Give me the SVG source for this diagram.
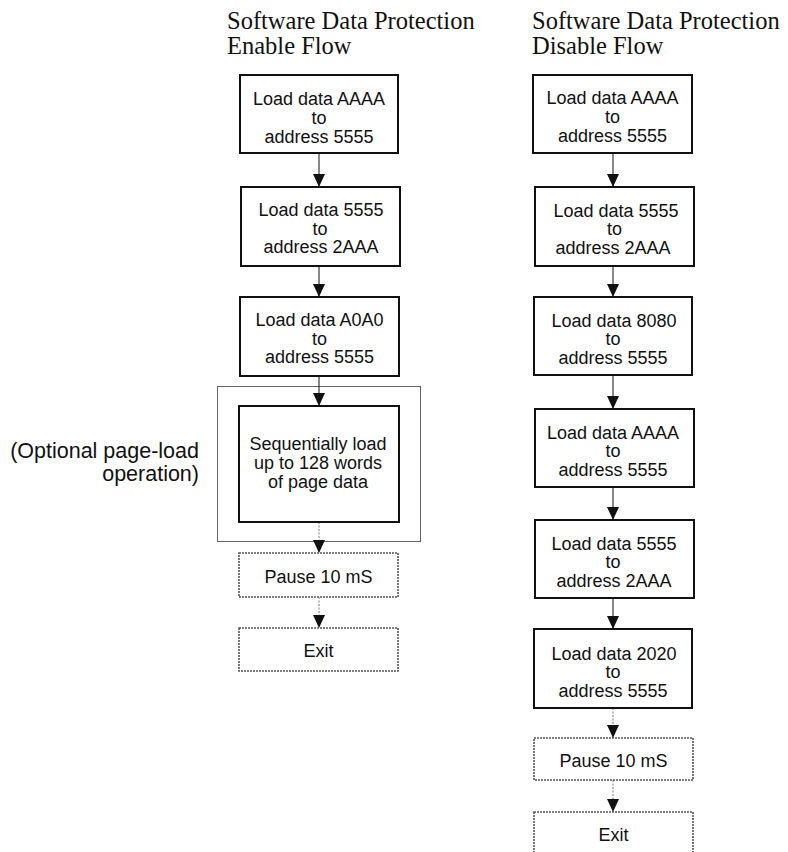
<svg xmlns="http://www.w3.org/2000/svg" width="788" height="852" viewBox="0 0 788 852">
  <style>
    .title { font-family: "Liberation Serif", "Times New Roman", serif; font-size: 24.5px; fill: #111; }
    .lbl { font-family: "Liberation Sans", Arial, sans-serif; font-size: 18px; fill: #111; text-anchor: middle; }
    .note { font-family: "Liberation Sans", Arial, sans-serif; font-size: 21.5px; fill: #111; text-anchor: end; }
    .box { fill: #fff; stroke: #111; stroke-width: 2; }
    .dbox { fill: #fff; stroke: #555; stroke-width: 1.6; stroke-dasharray: 2 1; }
    .frame { fill: none; stroke: #666; stroke-width: 1; }
    .arr { fill: none; stroke: #111; stroke-width: 1; marker-end: url(#head); }
    .darr { fill: none; stroke: #777; stroke-width: 1; stroke-dasharray: 2 1.5; marker-end: url(#head); }
  </style>
  <defs>
    <!-- filled triangular arrowhead, tip at the line end -->
    <marker id="head" markerUnits="userSpaceOnUse" markerWidth="13" markerHeight="12" viewBox="0 0 13 12" refX="13" refY="6" orient="auto">
      <path d="M0,0 L13,6 L0,12 Z" fill="#111"/>
    </marker>
  </defs>

  <!-- headings -->
  <text class="title" x="227" y="28.5">Software Data Protection</text>
  <text class="title" x="227" y="53.5">Enable Flow</text>
  <text class="title" x="532" y="28.5">Software Data Protection</text>
  <text class="title" x="532" y="53.5">Disable Flow</text>

  <!-- optional page-load frame and its note -->
  <rect class="frame" x="217.5" y="386.5" width="203" height="155"/>
  <text class="note" x="199" y="458">(Optional page-load</text>
  <text class="note" x="199" y="480.5">operation)</text>

  <!-- connectors -->
  <g id="connectors">
    <line class="arr" x1="319" y1="153" x2="319" y2="187"/>
    <line class="arr" x1="319" y1="266" x2="319" y2="297"/>
    <line class="arr" x1="319" y1="376" x2="319" y2="406"/>
    <line class="darr" x1="319" y1="522" x2="319" y2="553"/>
    <line class="darr" x1="319" y1="597" x2="319" y2="628"/>

    <line class="arr" x1="613" y1="153" x2="613" y2="187"/>
    <line class="arr" x1="613" y1="266" x2="613" y2="297"/>
    <line class="arr" x1="613" y1="375" x2="613" y2="409"/>
    <line class="arr" x1="613" y1="487" x2="613" y2="520"/>
    <line class="arr" x1="613" y1="598" x2="613" y2="629"/>
    <line class="darr" x1="613" y1="708" x2="613" y2="738"/>
    <line class="darr" x1="613" y1="780" x2="613" y2="812"/>
  </g>

  <!-- enable flow -->
  <g id="en1">
    <rect class="box" x="240" y="75" width="158" height="78"/>
    <text class="lbl" x="319" y="105">Load data AAAA</text>
    <text class="lbl" x="319" y="124">to</text>
    <text class="lbl" x="319" y="143">address 5555</text>
  </g>
  <g id="en2">
    <rect class="box" x="241" y="187" width="159" height="79"/>
    <text class="lbl" x="321" y="216">Load data 5555</text>
    <text class="lbl" x="320" y="234.5">to</text>
    <text class="lbl" x="321" y="253">address 2AAA</text>
  </g>
  <g id="en3">
    <rect class="box" x="240" y="297" width="159" height="79"/>
    <text class="lbl" x="319.5" y="326">Load data A0A0</text>
    <text class="lbl" x="319.5" y="344.5">to</text>
    <text class="lbl" x="319.5" y="363">address 5555</text>
  </g>
  <g id="en4">
    <rect class="box" x="239" y="406" width="160" height="116"/>
    <text class="lbl" x="318" y="450">Sequentially load</text>
    <text class="lbl" x="318" y="469">up to 128 words</text>
    <text class="lbl" x="318" y="488">of page data</text>
  </g>
  <g id="en5">
    <rect class="dbox" x="239" y="553" width="159" height="44"/>
    <text class="lbl" x="318.5" y="583">Pause 10 mS</text>
  </g>
  <g id="en6">
    <rect class="dbox" x="239" y="628" width="159" height="43"/>
    <text class="lbl" x="318.5" y="657">Exit</text>
  </g>

  <!-- disable flow -->
  <g id="dis1">
    <rect class="box" x="533" y="75" width="159" height="78"/>
    <text class="lbl" x="612.5" y="104">Load data AAAA</text>
    <text class="lbl" x="612.5" y="123">to</text>
    <text class="lbl" x="612.5" y="142">address 5555</text>
  </g>
  <g id="dis2">
    <rect class="box" x="535" y="187" width="159" height="79"/>
    <text class="lbl" x="616" y="216.5">Load data 5555</text>
    <text class="lbl" x="614.5" y="235">to</text>
    <text class="lbl" x="613" y="254">address 2AAA</text>
  </g>
  <g id="dis3">
    <rect class="box" x="534" y="297" width="158" height="78"/>
    <text class="lbl" x="614" y="326.5">Load data 8080</text>
    <text class="lbl" x="613" y="345">to</text>
    <text class="lbl" x="613" y="363.5">address 5555</text>
  </g>
  <g id="dis4">
    <rect class="box" x="535" y="409" width="159" height="78"/>
    <text class="lbl" x="613" y="438.5">Load data AAAA</text>
    <text class="lbl" x="613" y="457">to</text>
    <text class="lbl" x="613" y="475.5">address 5555</text>
  </g>
  <g id="dis5">
    <rect class="box" x="535" y="520" width="159" height="78"/>
    <text class="lbl" x="614" y="549.5">Load data 5555</text>
    <text class="lbl" x="613" y="568">to</text>
    <text class="lbl" x="614" y="586.5">address 2AAA</text>
  </g>
  <g id="dis6">
    <rect class="box" x="534" y="629" width="158" height="79"/>
    <text class="lbl" x="614" y="659.5">Load data 2020</text>
    <text class="lbl" x="613" y="678">to</text>
    <text class="lbl" x="613" y="696.5">address 5555</text>
  </g>
  <g id="dis7">
    <rect class="dbox" x="534" y="738" width="159" height="42"/>
    <text class="lbl" x="613.5" y="767">Pause 10 mS</text>
  </g>
  <g id="dis8">
    <rect class="dbox" x="534" y="812" width="159" height="46"/>
    <text class="lbl" x="613.5" y="841">Exit</text>
  </g>
</svg>
